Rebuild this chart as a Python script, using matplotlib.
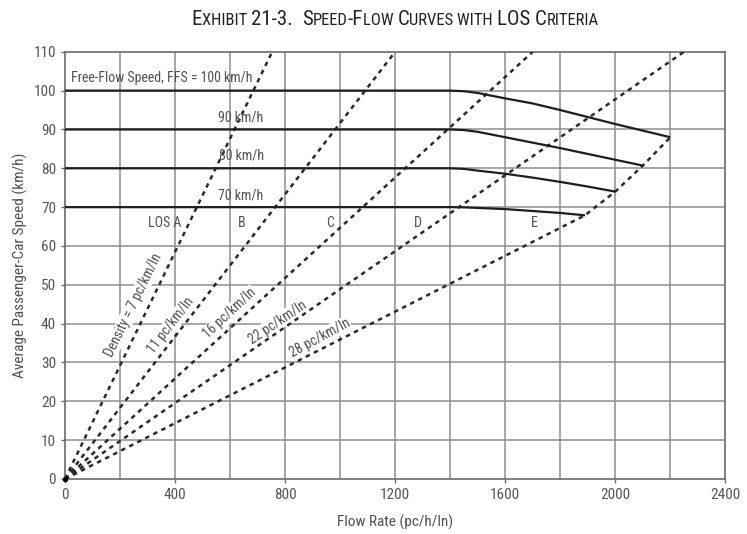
import matplotlib
matplotlib.use("Agg")
import matplotlib.pyplot as plt
from matplotlib.offsetbox import TextArea, HPacker, AnnotationBbox

plt.rcParams['font.family'] = ['Roboto Condensed', 'DejaVu Sans']

# ---------------- data ----------------
ffs_labels = ["Free-Flow Speed, FFS = 100 km/h", "90 km/h", "80 km/h", "70 km/h"]

flow_100 = [0, 1400, 1450, 1500, 1600, 1700, 1800, 1900, 2000, 2100, 2200]
speed_100 = [100, 100, 99.85, 99.4, 98.0, 96.7, 95.0, 93.2, 91.4, 89.7, 88.0]

flow_90 = [0, 1400, 1450, 1500, 1600, 1700, 1800, 1900, 2000, 2100]
speed_90 = [90, 90, 89.85, 89.4, 88.0, 86.6, 85.2, 83.7, 82.2, 80.7]

flow_80 = [0, 1400, 1450, 1500, 1600, 1700, 1800, 1900, 2000]
speed_80 = [80, 80, 79.85, 79.4, 78.6, 77.6, 76.5, 75.3, 74.0]

flow_70 = [0, 1400, 1450, 1500, 1600, 1700, 1800, 1890]
speed_70 = [70, 70, 69.95, 69.8, 69.5, 69.0, 68.5, 67.9]

density_labels = ["Density = 7 pc/km/ln", "11 pc/km/ln", "16 pc/km/ln", "22 pc/km/ln"]
density_flow_at_110 = [753, 1200, 1700, 2250]   # where each LOS boundary meets 110 km/h

los_e_flow = [0, 1890, 2000, 2100, 2200]
los_e_speed = [0, 67.9, 74.0, 80.7, 88.0]
los_e_label = "28 pc/km/ln"

los_labels = ["LOS A", "B", "C", "D", "E"]

x_ticks = [0, 400, 800, 1200, 1600, 2000, 2400]
y_ticks = list(range(0, 111, 10))

# ---------------- figure ----------------
fig = plt.figure(figsize=(7.47, 5.34), dpi=100)
ax = fig.add_axes([0.087, 0.103, 0.884, 0.800])
ax.set_xlim(0, 2400)
ax.set_ylim(0, 110)

grid_c = '#8e8e8e'
for gx in range(200, 2400, 200):
    ax.axvline(gx, color=grid_c, lw=1.1, zorder=0.5)
for gy in range(10, 110, 10):
    ax.axhline(gy, color=grid_c, lw=1.1, zorder=0.5)
for s in ax.spines.values():
    s.set_color('#6a6a6a')
    s.set_linewidth(1.2)

curve_c = '#1e1e1e'
for fx, sy in [(flow_100, speed_100), (flow_90, speed_90), (flow_80, speed_80), (flow_70, speed_70)]:
    ax.plot(fx, sy, color=curve_c, lw=1.6, zorder=4, solid_capstyle='butt')

dash_c = '#2a2a2a'
for ftop in density_flow_at_110:
    ax.plot([0, ftop], [0, 110], color=dash_c, lw=1.8, ls=(0, (1.8, 1.8)), zorder=3)
ax.plot(los_e_flow, los_e_speed, color=dash_c, lw=1.8, ls=(0, (1.8, 1.8)), zorder=3)
ax.plot([0], [0], 'o', color='black', ms=3, zorder=5, clip_on=False)

tc = '#505050'
fs = 10
# speed labels
ax.text(22, 103.2, ffs_labels[0], color=tc, fontsize=fs, va='center', ha='left', zorder=6)
ax.text(640, 93.1, ffs_labels[1], color=tc, fontsize=fs, va='center', ha='center', zorder=6)
ax.text(640, 83.4, ffs_labels[2], color=tc, fontsize=fs, va='center', ha='center', zorder=6)
ax.text(640, 73.1, ffs_labels[3], color=tc, fontsize=fs, va='center', ha='center', zorder=6)

# LOS labels
for lab, x in zip(los_labels, [363, 642, 962, 1283, 1707]):
    ax.text(x, 66, lab, color=tc, fontsize=fs, va='center', ha='center', zorder=6)

# density labels
bb = dict(facecolor='white', edgecolor='none', pad=0.6)
dens_pos = [(248, 44.8, 64), (385, 39.6, 52.5), (599, 42.7, 43), (773, 40.4, 34)]
for lab, (x, y, r) in zip(density_labels, dens_pos):
    ax.text(x, y, lab, color=tc, fontsize=fs, rotation=r, rotation_mode='anchor',
            ha='center', va='center', zorder=2, bbox=bb)
ax.text(926, 36.3, los_e_label, color=tc, fontsize=fs, rotation=28.5, rotation_mode='anchor',
        ha='center', va='center', zorder=2, bbox=bb)

ax.set_xticks(x_ticks)
ax.set_yticks(y_ticks)
ax.tick_params(axis='both', colors='#6a6a6a', labelcolor='#555555', labelsize=11, length=3, width=1)
ax.set_xlabel("Flow Rate (pc/h/ln)", color='#505050', fontsize=11, labelpad=9)
ax.set_ylabel("Average Passenger-Car Speed (km/h)", color='#505050', fontsize=11, labelpad=4)

# small-caps title
big, small = 15, 12
parts = [("E", big), ("XHIBIT ", small), ("21-3.  ", big), ("S", big), ("PEED", small),
         ("-F", big), ("LOW ", small), ("C", big), ("URVES WITH ", small), ("LOS ", big),
         ("C", big), ("RITERIA", small)]
areas = [TextArea(t, textprops=dict(fontsize=s, color='#222222')) for t, s in parts]
box = HPacker(children=areas, align="baseline", pad=0, sep=0)
ab = AnnotationBbox(box, (0.529, 0.964), xycoords='figure fraction', frameon=False,
                    box_alignment=(0.5, 0.5))
fig.add_artist(ab)

fig.savefig("out.png", dpi=100)
